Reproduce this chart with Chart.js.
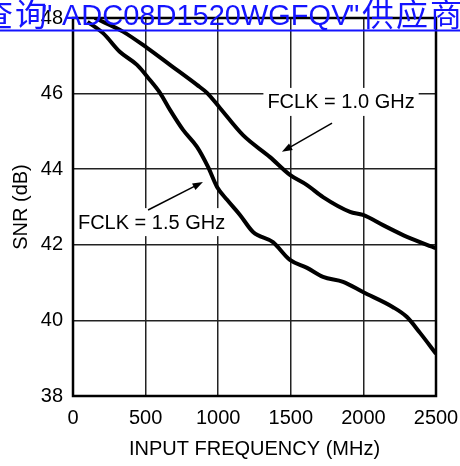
<!DOCTYPE html>
<html>
<head>
<meta charset="utf-8">
<script src="https://cdn.jsdelivr.net/npm/chart.js@4/dist/chart.umd.min.js"></script>
<style>
  html, body { margin: 0; padding: 0; background: #fff; }
</style>
</head>
<body>
<canvas id="snr" width="460" height="466"></canvas>
<script>
// SNR vs input frequency, two clock rates
const freq10 = [150, 344, 510, 668, 854, 923, 1012, 1171, 1357, 1494, 1612, 1722, 1908, 1997, 2135, 2300, 2500];
const snr10  = [48.0, 47.64, 47.21, 46.76, 46.23, 46.02, 45.62, 44.90, 44.32, 43.85, 43.58, 43.26, 42.87, 42.79, 42.52, 42.21, 41.91];
const freq15 = [100, 207, 324, 441, 530, 599, 668, 758, 854, 930, 992, 1061, 1150, 1240, 1377, 1494, 1612, 1722, 1860, 1997, 2204, 2300, 2390, 2500];
const snr15  = [47.9, 47.60, 47.10, 46.76, 46.36, 46.02, 45.57, 45.04, 44.59, 44.06, 43.53, 43.19, 42.79, 42.34, 42.07, 41.60, 41.39, 41.15, 41.02, 40.75, 40.35, 40.09, 39.67, 39.12];
const xTicks = [0, 500, 1000, 1500, 2000, 2500];
const yTicks = [38, 40, 42, 44, 46, 48];

// label text, label centre, arrow tail, arrow head (data units)
const notes = [
  { text: "FCLK = 1.0 GHz", at: [1846, 45.78], from: [1784, 45.22], to: [1439, 44.46] },
  { text: "FCLK = 1.5 GHz", at: [541, 42.60], from: [517, 42.92], to: [895, 43.66] },
];

const FONT = '"Liberation Sans", Arial, sans-serif';
const CJK = '"Noto Sans CJK SC", sans-serif';
const BLUE = "#1414ff";
const toPts = (xs, ys) => xs.map((x, i) => ({ x, y: ys[i] }));

const annot = {
  id: "annot",
  beforeDatasetsDraw(chart) {
    const { ctx, chartArea: a, scales: { x, y } } = chart;
    ctx.save();
    ctx.font = "20px " + FONT;
    ctx.textAlign = "center";
    ctx.textBaseline = "middle";
    notes.forEach((n) => {
      const cx = x.getPixelForValue(n.at[0]);
      const cy = y.getPixelForValue(n.at[1]);
      const w = ctx.measureText(n.text).width + 8;
      ctx.fillStyle = "#fff";
      ctx.fillRect(cx - w / 2, cy - 14, w, 28);
      ctx.fillStyle = "#000";
      ctx.fillText(n.text, cx, cy + 1);

      const x0 = x.getPixelForValue(n.from[0]), y0 = y.getPixelForValue(n.from[1]);
      const x1 = x.getPixelForValue(n.to[0]), y1 = y.getPixelForValue(n.to[1]);
      const ang = Math.atan2(y1 - y0, x1 - x0);
      ctx.strokeStyle = "#000";
      ctx.lineWidth = 1.5;
      ctx.beginPath();
      ctx.moveTo(x0, y0);
      ctx.lineTo(x1 - 8 * Math.cos(ang), y1 - 8 * Math.sin(ang));
      ctx.stroke();
      ctx.beginPath();
      ctx.moveTo(x1, y1);
      ctx.lineTo(x1 - 11 * Math.cos(ang - 0.35), y1 - 11 * Math.sin(ang - 0.35));
      ctx.lineTo(x1 - 11 * Math.cos(ang + 0.35), y1 - 11 * Math.sin(ang + 0.35));
      ctx.closePath();
      ctx.fillStyle = "#000";
      ctx.fill();
    });
    ctx.strokeStyle = "#000";
    ctx.lineWidth = 2.5;
    ctx.strokeRect(a.left, a.top, a.right - a.left, a.bottom - a.top);
    ctx.restore();
  },
  // blue link banner that sits over the top of the scan
  afterDraw(chart) {
    const ctx = chart.ctx;
    ctx.save();
    ctx.fillStyle = BLUE;
    ctx.textBaseline = "alphabetic";
    ctx.textAlign = "left";
    const cjk = (s, x0) => {
      ctx.font = "32px " + CJK;
      [...s].forEach((ch, i) => ctx.fillText(ch, x0 + i * 34, 26));
    };
    cjk("查询", -19);
    ctx.font = "29px " + FONT;
    ctx.fillText('"', 42, 25);
    ctx.fillText("ADC08D1520WGFQV", 62, 25);
    ctx.fillText('"', 349, 25);
    cjk("供应商", 362);
    ctx.fillRect(0, 29.5, 460, 2);
    ctx.restore();
  },
};

const lineStyle = {
  borderColor: "#000",
  borderWidth: 4,
  pointRadius: 0,
  fill: false,
  cubicInterpolationMode: "monotone",
};

new Chart(document.getElementById("snr"), {
  type: "line",
  data: {
    datasets: [
      { label: "FCLK = 1.0 GHz", data: toPts(freq10, snr10), ...lineStyle },
      { label: "FCLK = 1.5 GHz", data: toPts(freq15, snr15), ...lineStyle },
    ],
  },
  options: {
    responsive: false,
    animation: false,
    layout: { padding: { top: 18, right: 24, bottom: 0, left: 0 } },
    plugins: { legend: { display: false }, tooltip: { enabled: false } },
    scales: {
      x: {
        type: "linear",
        min: 0,
        max: 2500,
        afterFit: (s) => { s.height = 70; s.paddingLeft = 0; s.paddingRight = 0; },
        afterBuildTicks: (s) => { s.ticks = xTicks.map((v) => ({ value: v })); },
        grid: { color: "#222", lineWidth: 1.5, drawTicks: false },
        border: { display: false },
        ticks: { color: "#000", font: { family: FONT, size: 20 }, padding: 10, maxRotation: 0, callback: (v) => String(v) },
        title: {
          display: true,
          text: "INPUT FREQUENCY (MHz)",
          color: "#000",
          font: { family: FONT, size: 20 },
          padding: { top: 0, bottom: 5 },
        },
      },
      y: {
        min: 38,
        max: 48,
        afterFit: (s) => { s.width = 73; s.paddingTop = 0; s.paddingBottom = 0; },
        afterBuildTicks: (s) => { s.ticks = yTicks.map((v) => ({ value: v })); },
        grid: { color: "#222", lineWidth: 1.5, drawTicks: false },
        border: { display: false },
        ticks: { color: "#000", font: { family: FONT, size: 20 }, padding: 10, callback: (v) => String(v) },
        title: {
          display: true,
          text: "SNR (dB)",
          color: "#000",
          font: { family: FONT, size: 20 },
          padding: { top: 9, bottom: 0 },
        },
      },
    },
  },
  plugins: [annot],
});
</script>
</body>
</html>
